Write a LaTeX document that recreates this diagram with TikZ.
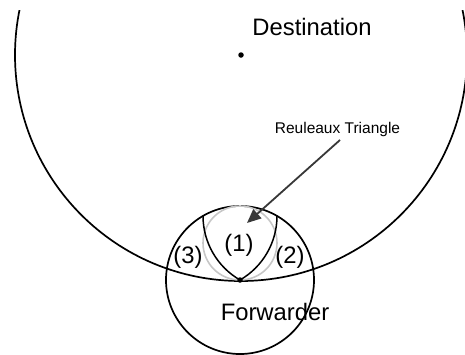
\documentclass[tikz,border=0pt]{standalone}
\usepackage{fontspec}
\setmainfont{Liberation Sans}
\usetikzlibrary{arrows.meta}
\begin{document}
\begin{tikzpicture}[x=1pt,y=-1pt,
  ring/.style={draw=black,line width=1.7pt},
  lens/.style={draw=black,line width=1.5pt},
  inner/.style={draw=black!22,line width=1.6pt},
  bigtext/.style={font=\fontsize{23.8}{28}\selectfont,inner sep=0pt,anchor=base},
  smalltext/.style={font=\fontsize{15.5}{18}\selectfont,inner sep=0pt,anchor=base},
  pointer/.style={draw=black!78,line width=1.8pt,-{Triangle[length=14pt,width=12pt]}},
  dot/.style={circle,fill=black,inner sep=0pt,minimum size=5.5pt}]
\useasboundingbox (0,0) rectangle (465,354);
% centres
\coordinate (D) at (241,55);
\coordinate (F) at (240,280);
\coordinate (A) at (203,216);
\coordinate (B) at (277,216);
\coordinate (G) at (240,243);
% destination circle
\begin{scope}
\clip (0,10) rectangle (465,354);
\draw[ring] (D) circle[radius=226];
\end{scope}
% forwarder circle
\draw[ring] (F) circle[radius=74];
% inscribed grey circle
\draw[inner] (G) circle[radius=37];
% Reuleaux arcs
\draw[lens] (F) arc[start angle=120,end angle=180,radius=74];
\draw[lens] (F) arc[start angle=60,end angle=0,radius=74];
% dots
\node[dot] (dd) at (D) {};
\node[dot] (fd) at (F) {};
% labels
\node[bigtext] (dest) at (312,35) {Destination};
\node[bigtext] (fwd) at (275,320) {Forwarder};
\node[bigtext] (l1) at (239,251) {(1)};
\node[bigtext] (l3) at (188,263) {(3)};
\node[bigtext] (l2) at (290,263) {(2)};
\node[smalltext] (rt) at (337.5,133) {Reuleaux Triangle};
% arrow
\coordinate (as) at (340,140);
\coordinate (at) at (247,223);
\draw[pointer] (as) -- (at);
\end{tikzpicture}
\end{document}
